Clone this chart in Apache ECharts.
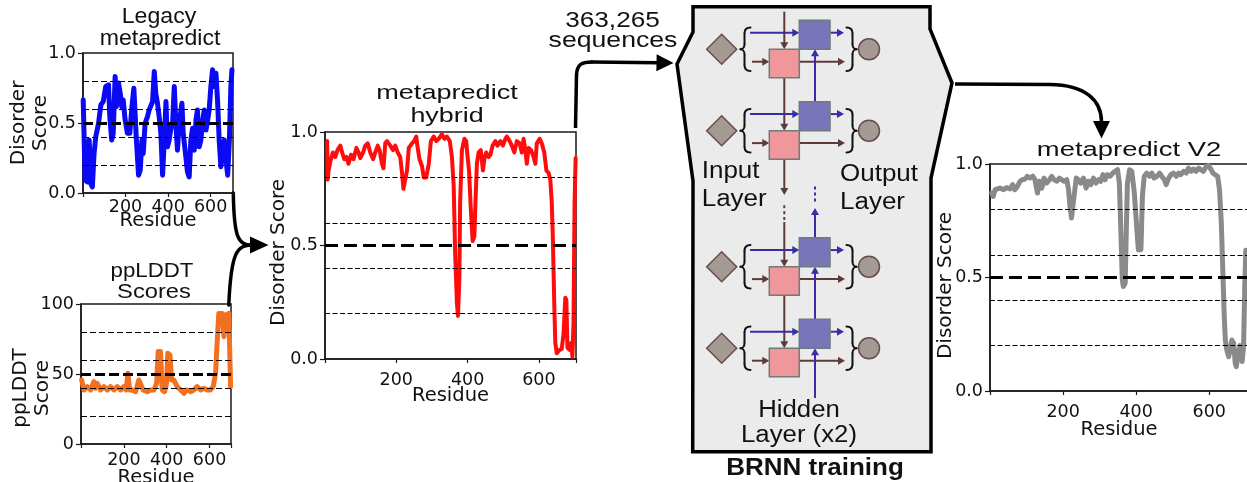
<!DOCTYPE html>
<html><head><meta charset="utf-8">
<script src="https://cdn.jsdelivr.net/npm/echarts@6/dist/echarts.min.js"></script>
<style>html,body{margin:0;padding:0;background:#fff}#c{width:1247px;height:482px}</style>
</head><body><div id="c"></div>
<script>
// ---------------- DATA ----------------
const legacyRes = [1,10,21,29,37,44,52,60,73,84,95,107,120,126,135,142,151,157,167,175,182,189,198,209,220,230,239,245,251,261,269,277,283,292,303,311,319,327,335,342,350,358,366,374,382,390,397,405,413,421,429,437,444,452,465,471,480,491,499,507,515,523,531,538,546,554,562,570,578,586,593,601,609,617,625,633,640,648,656,664,672,680,688,695,700];
const legacyVal = [0.665,0.091,0.079,0.378,0.067,0.043,0.282,0.402,0.498,0.629,0.653,0.761,0.773,0.545,0.378,0.426,0.833,0.617,0.785,0.713,0.617,0.665,0.522,0.426,0.426,0.617,0.749,0.737,0.378,0.127,0.163,0.378,0.282,0.498,0.545,0.593,0.581,0.653,0.868,0.713,0.641,0.545,0.426,0.127,0.378,0.653,0.330,0.378,0.462,0.498,0.761,0.474,0.306,0.498,0.641,0.426,0.306,0.151,0.115,0.378,0.462,0.306,0.522,0.593,0.330,0.378,0.510,0.593,0.450,0.522,0.593,0.761,0.880,0.761,0.856,0.641,0.378,0.187,0.306,0.378,0.234,0.127,0.378,0.761,0.880];

const plddtRes = [3,14,29,45,60,68,76,91,107,123,138,154,169,185,200,211,219,227,239,255,270,278,290,309,325,340,353,360,371,379,390,399,405,415,423,433,449,465,480,496,511,527,542,558,573,589,604,617,628,636,643,659,667,674,690,698];
const plddtVal = [45.7,38.6,41.0,38.6,44.5,39.8,43.3,38.6,41.0,38.6,41.0,38.6,41.0,38.6,41.0,38.6,50.5,38.6,38.6,37.4,45.7,46.9,38.6,37.4,38.6,38.6,43.3,66.0,66.0,38.6,37.4,43.3,64.8,63.6,45.7,45.7,41.0,38.6,36.2,38.6,37.4,38.6,41.0,38.6,39.8,38.6,38.6,41.0,50.5,74.3,93.3,93.3,76.7,92.1,93.3,41.0];

const hybridRes = [6,7.5,10,15,22,29,35,43,48,54,60,66,73,80,88,94,99,107,113,120,127,135,141,148,153,160,164,169,174,183,191,197,204,211,216,220,225,230,235,244,250,256,259,265,272,277,284,291,297,305,312,319,328,335,342,350,356,361,365,370,373,377,379,384,391,396,400,404,409,414,419,422,426,431,437,443,447,452,459,464,470,478,484,492,499,506,510,518,524,531,538,546,552,557,562,566,571,578,585,590,594,602,608,615,621,627,632,636,639,643,646,650,658,664,669,674,677,680,686,690,694,697,700,703];
const hybridVal = [0.96,0.79,0.83,0.87,0.91,0.89,0.92,0.94,0.91,0.88,0.89,0.86,0.90,0.88,0.93,0.91,0.885,0.91,0.94,0.95,0.91,0.88,0.91,0.94,0.92,0.86,0.84,0.95,0.96,0.94,0.92,0.94,0.91,0.89,0.82,0.75,0.745,0.83,0.93,0.95,0.96,0.98,0.94,0.88,0.85,0.80,0.80,0.86,0.96,0.98,0.96,0.97,0.99,0.97,0.98,0.96,0.89,0.76,0.47,0.245,0.19,0.36,0.69,0.92,0.97,0.96,0.89,0.83,0.66,0.52,0.54,0.69,0.86,0.91,0.92,0.83,0.88,0.91,0.89,0.90,0.94,0.96,0.94,0.96,0.94,0.97,0.98,0.96,0.94,0.91,0.96,0.95,0.91,0.97,0.92,0.86,0.93,0.92,0.89,0.86,0.95,0.97,0.95,0.91,0.83,0.82,0.79,0.69,0.54,0.245,0.07,0.025,0.04,0.045,0.11,0.27,0.26,0.05,0.04,0.07,0.01,0.16,0.69,0.885];

const v2Res = [5,9,14,18,27,37,46,55,62,68,75,82,89,96,102,110,117,123,130,135,142,148,155,163,169,175,183,190,196,203,210,215,219,223,226,230,236,242,248,256,263,269,276,283,290,297,303,309,315,321,329,336,342,349,354,358,362,365,370,373,376,382,388,395,402,406,413,417,422,429,437,443,449,457,464,470,477,482,489,495,502,510,516,522,530,537,543,550,557,564,571,577,584,592,598,605,610,616,623,628,633,637,641,644,648,653,657,662,667,671,674,678,684,690,694,697,700];
const v2Val = [0.872,0.857,0.887,0.879,0.894,0.887,0.896,0.890,0.909,0.887,0.901,0.924,0.931,0.934,0.946,0.938,0.946,0.931,0.872,0.924,0.894,0.938,0.916,0.931,0.946,0.931,0.924,0.938,0.931,0.924,0.931,0.887,0.813,0.762,0.762,0.857,0.938,0.931,0.916,0.938,0.894,0.924,0.909,0.938,0.916,0.931,0.924,0.953,0.931,0.953,0.946,0.960,0.968,0.975,0.916,0.710,0.490,0.460,0.475,0.710,0.916,0.975,0.968,0.872,0.710,0.622,0.622,0.857,0.946,0.960,0.946,0.960,0.938,0.946,0.960,0.946,0.931,0.909,0.938,0.953,0.960,0.946,0.960,0.953,0.968,0.960,0.982,0.968,0.978,0.968,0.982,0.975,0.968,0.990,0.993,0.975,0.960,0.953,0.946,0.887,0.740,0.534,0.328,0.225,0.181,0.151,0.181,0.225,0.210,0.122,0.107,0.150,0.200,0.130,0.200,0.450,0.620];

const scoreGuides = [0.2, 0.4, 0.6, 0.8];
const scoreCutoff = 0.5;
const plddtGuides = [20, 40, 60, 80];
const plddtCutoff = 50;
const residueTicks = [200, 400, 600];

const chartTitles = [['Legacy', 'metapredict'], ['ppLDDT', 'Scores'], ['metapredict', 'hybrid'], ['metapredict V2']];
const yNames = ['Disorder\nScore', 'ppLDDT\nScore', 'Disorder Score', 'Disorder Score'];
const xName = 'Residue';
const seqLabel = ['363,265', 'sequences'];
const brnnLabels = {input: ['Input', 'Layer'], output: ['Output', 'Layer'], hidden: ['Hidden', 'Layer (x2)'], title: 'BRNN training'};

// ---------------- LAYOUT ----------------
const AX = '#1a1a1a';
const TXT = '#111';
const NUMFONT = 'DejaVu Sans';
const zip = (a, b) => a.map((v, i) => [v, b[i]]);

const panels = [
  {grid: {left: 83, top: 53, width: 150, height: 140}, xmax: 705, ymax: 1, yint: 0.5, fmt: v => v.toFixed(1),
   res: legacyRes, val: legacyVal, color: '#0a0af5', lw: 5, guides: scoreGuides, cut: scoreCutoff,
   lblMargin: 5, nameGap: 18, yNameGap: 31, yPad: [0, 0, 0, 0], thin: [6, 3], thick: [10, 4], lh: 22},
  {grid: {left: 81, top: 304, width: 150, height: 140}, xmax: 700, ymax: 100, yint: 50, fmt: v => String(v),
   res: plddtRes, val: plddtVal, color: '#f5701e', lw: 5, guides: plddtGuides, cut: plddtCutoff,
   lblMargin: 7, nameGap: 24, yNameGap: 27, yPad: [0, 28, 0, 0], thin: [6, 3], thick: [10, 4], lh: 22},
  {grid: {left: 325, top: 132, width: 251, height: 227}, xmax: 704, ymax: 1, yint: 0.5, fmt: v => v.toFixed(1),
   res: hybridRes, val: hybridVal, color: '#ff0d0d', lw: 4, guides: scoreGuides, cut: scoreCutoff,
   lblMargin: 12, nameGap: 27, yNameGap: 35, yPad: [0, 14, 0, 0], thin: [5, 2.5], thick: [13, 6], lh: 22},
  {grid: {left: 990, top: 164, width: 258, height: 227}, xmax: 706, ymax: 1, yint: 0.5, fmt: v => v.toFixed(1),
   res: v2Res, val: v2Val, color: '#8a8a8a', lw: 5, guides: scoreGuides, cut: scoreCutoff,
   lblMargin: 12, nameGap: 29, yNameGap: 33, yPad: [0, 16, 0, 0], thin: [5, 2.5], thick: [13, 6], lh: 22}
];

const grid = [], xAxis = [], yAxis = [], series = [];
panels.forEach((p, i) => {
  grid.push(Object.assign({show: true, borderColor: AX, borderWidth: 1.5, backgroundColor: 'transparent',
    containLabel: false, outerBoundsMode: 'none'}, p.grid));
  xAxis.push({
    type: 'value', gridIndex: i, min: 0, max: p.xmax, interval: 200,
    axisLine: {show: true, lineStyle: {color: AX, width: 1.5}},
    axisTick: {show: true, length: 4, lineStyle: {color: AX, width: 1.2}},
    axisLabel: {margin: p.lblMargin, color: TXT, fontFamily: NUMFONT, fontSize: 17.5,
      formatter: v => residueTicks.includes(v) ? String(v) : ''},
    splitLine: {show: false},
    name: xName, nameLocation: 'middle', nameGap: p.nameGap, nameMoveOverlap: false,
    nameTextStyle: {color: TXT, fontFamily: NUMFONT, fontSize: 19.5}
  });
  yAxis.push({
    type: 'value', gridIndex: i, min: 0, max: p.ymax, interval: p.yint,
    axisLine: {show: true, lineStyle: {color: AX, width: 1.5}},
    axisTick: {show: true, length: 5, lineStyle: {color: AX, width: 1.2}},
    axisLabel: {margin: 7, color: TXT, fontFamily: NUMFONT, fontSize: 17.5, formatter: p.fmt},
    splitLine: {show: false},
    name: yNames[i], nameLocation: 'middle', nameRotate: 90, nameGap: p.yNameGap, nameMoveOverlap: false,
    nameTextStyle: {color: TXT, fontFamily: NUMFONT, fontSize: 20, lineHeight: p.lh, padding: p.yPad}
  });
  const ml = p.guides.map(g => ({yAxis: g, lineStyle: {color: '#000', width: 1, type: p.thin}}));
  ml.push({yAxis: p.cut, lineStyle: {color: '#000', width: 3, type: p.thick}});
  series.push({
    type: 'line', xAxisIndex: i, yAxisIndex: i, data: zip(p.res, p.val),
    symbol: 'none', showSymbol: false, animation: false, silent: true,
    lineStyle: {color: p.color, width: p.lw, join: 'round', cap: 'round'},
    markLine: {silent: true, symbol: ['none', 'none'], label: {show: false}, animation: false,
      emphasis: {disabled: true}, data: ml}
  });
});

// ---------------- GRAPHICS (diagram, arrows, text) ----------------
const G = [];
const BLUE = '#3a2ca6', BROWN = '#5e3b3b';
function ln(x1, y1, x2, y2, color, w) {
  G.push({type: 'line', silent: true, shape: {x1, y1, x2, y2}, style: {stroke: color, lineWidth: w, lineCap: 'butt'}});
}
function bz(x1, y1, cpx1, cpy1, cpx2, cpy2, x2, y2, color, w) {
  G.push({type: 'bezierCurve', silent: true, shape: {x1, y1, x2, y2, cpx1, cpy1, cpx2, cpy2},
    style: {stroke: color, lineWidth: w, fill: null, lineCap: 'round'}});
}
function poly(points, fill, stroke, w) {
  G.push({type: 'polygon', silent: true, shape: {points}, style: {fill, stroke: stroke || null, lineWidth: w || 0}});
}
function head(tx, ty, ux, uy, hl, hw, color) {
  const bx = tx - ux * hl, by = ty - uy * hl;
  poly([[tx, ty], [bx - uy * hw, by + ux * hw], [bx + uy * hw, by - ux * hw]], color);
}
function arrow(x1, y1, x2, y2, color, w, hl, hw) {
  const dx = x2 - x1, dy = y2 - y1, L = Math.hypot(dx, dy), ux = dx / L, uy = dy / L;
  ln(x1, y1, x2 - ux * (hl - 1), y2 - uy * (hl - 1), color, w);
  head(x2, y2, ux, uy, hl, hw, color);
}
function txt(s, x, y, size, sx, align, bold) {
  G.push({type: 'text', silent: true, x, y, scaleX: sx, scaleY: 1,
    style: {text: s, fill: TXT, fontSize: size, fontFamily: 'Liberation Sans', fontWeight: bold ? 'bold' : 'normal',
      align: align || 'center', verticalAlign: 'middle', textAlign: align || 'center', textVerticalAlign: 'middle'}});
}

// BRNN box
poly([[693, 6.7], [930, 6.7], [930, 29], [952, 83], [931, 178], [931, 451.7], [692.7, 451.7], [693, 181], [677, 64], [693, 32]],
  '#ebebeb', '#000', 3.5);

const rows = [49.3, 130.7, 266.7, 348.3];
const bx = 784.3;
arrow(bx, 11.7, bx, 49.3, BROWN, 2, 7, 4);
arrow(bx, 77.8, bx, 130.7, BROWN, 2, 7, 4);
arrow(bx, 159.2, bx, 195, BROWN, 2, 7, 4);
[206.7, 212.7, 218.5].forEach(y => G.push({type: 'rect', silent: true, shape: {x: bx - 1, y: y - 1.5, width: 2, height: 3}, style: {fill: BROWN}}));
arrow(bx, 222, bx, 266.7, BROWN, 2, 7, 4);
arrow(bx, 295.2, bx, 348.3, BROWN, 2, 7, 4);

rows.forEach(cy => {
  arrow(752, cy + 12.4, 769.3, cy + 12.4, BROWN, 2, 7, 4);
  arrow(800, cy + 12.4, 845, cy + 12.4, BROWN, 2, 7, 4);
  arrow(750, cy - 16.6, 799.3, cy - 16.6, BLUE, 2, 7, 4);
  arrow(830.5, cy - 16.6, 844, cy - 16.6, BLUE, 2, 7, 4);
});
const ux = 815;
arrow(ux, 101.7, ux, 49.3, BLUE, 2, 7, 4);
[188, 194, 200].forEach(y => G.push({type: 'rect', silent: true, shape: {x: ux - 1, y: y - 1.5, width: 2, height: 3}, style: {fill: BLUE}}));
arrow(ux, 238.3, ux, 208, BLUE, 2, 7, 4);
arrow(ux, 319.3, ux, 266.7, BLUE, 2, 7, 4);
arrow(ux, 398, ux, 348.3, BLUE, 2, 7, 4);

rows.forEach(cy => {
  poly([[706.7, cy], [721.7, cy - 15], [736.7, cy], [721.7, cy + 15]], '#a39a93', '#6b4b4b', 1.5);
  G.push({type: 'rect', silent: true, shape: {x: 799.3, y: cy - 29, width: 30.7, height: 29}, style: {fill: '#7a74b9', stroke: '#6c7c7c', lineWidth: 1.5}});
  G.push({type: 'rect', silent: true, shape: {x: 769.3, y: cy, width: 30, height: 28.5}, style: {fill: '#f0979b', stroke: '#6c7c7c', lineWidth: 1.5}});
  G.push({type: 'circle', silent: true, shape: {cx: 869, cy, r: 10.5}, style: {fill: '#a39a93', stroke: '#6b4b4b', lineWidth: 1.5}});
  const K = '#111';
  bz(750.5, cy - 21.7, 746.5, cy - 21.7, 744.5, cy - 20, 744.5, cy - 16, K, 2);
  ln(744.5, cy - 16, 744.5, cy - 5, K, 2);
  bz(744.5, cy - 5, 744.5, cy - 2, 742.5, cy, 740.5, cy, K, 2);
  bz(740.5, cy, 742.5, cy, 744.5, cy + 2, 744.5, cy + 5, K, 2);
  ln(744.5, cy + 5, 744.5, cy + 16, K, 2);
  bz(744.5, cy + 16, 744.5, cy + 20, 746.5, cy + 21.7, 750.5, cy + 21.7, K, 2);
  bz(846.5, cy - 21.7, 850.5, cy - 21.7, 852.5, cy - 20, 852.5, cy - 16, K, 2);
  ln(852.5, cy - 16, 852.5, cy - 5, K, 2);
  bz(852.5, cy - 5, 852.5, cy - 2, 854.5, cy, 856.5, cy, K, 2);
  bz(856.5, cy, 854.5, cy, 852.5, cy + 2, 852.5, cy + 5, K, 2);
  ln(852.5, cy + 5, 852.5, cy + 16, K, 2);
  bz(852.5, cy + 16, 852.5, cy + 20, 850.5, cy + 21.7, 846.5, cy + 21.7, K, 2);
});

// big black arrows
bz(233.3, 193, 234, 238, 238, 245, 252, 245, '#000', 3.5);
bz(228.8, 305, 231, 252, 237, 245, 252, 245, '#000', 3.5);
head(268.5, 245, 1, 0, 18.5, 8.5, '#000');

ln(575.5, 128, 576.5, 75, '#000', 3.5);
bz(576.5, 75, 577, 64, 582, 62, 592, 62, '#000', 3.5);
ln(591, 62, 658, 62.7, '#000', 3.5);
head(673.5, 63, 1, 0.02, 17, 8.5, '#000');

ln(955, 84, 1050, 84.5, '#000', 3.5);
bz(1050, 84.5, 1085, 85, 1101.5, 100, 1101.5, 122, '#000', 3.5);
head(1101.5, 138.5, 0, 1, 17.5, 8.5, '#000');

// texts
txt(chartTitles[0][0], 159, 16.5, 22, 1.05);
txt(chartTitles[0][1], 160, 39, 22, 1.05);
txt(chartTitles[1][0], 152, 271, 21, 1.06);
txt(chartTitles[1][1], 154, 292, 21, 1.13);
txt(chartTitles[2][0], 447, 93, 21, 1.29);
txt(chartTitles[2][1], 447, 116, 21, 1.28);
txt(chartTitles[3][0], 1129, 150, 20, 1.37);
txt(seqLabel[0], 612.5, 21.3, 22, 1.19);
txt(seqLabel[1], 613, 41, 22, 1.21);
txt(brnnLabels.input[0], 701.7, 171.7, 23, 1.13, 'left');
txt(brnnLabels.input[1], 701.7, 199.7, 23, 1.13, 'left');
txt(brnnLabels.output[0], 840, 174.7, 23, 1.13, 'left');
txt(brnnLabels.output[1], 840, 202.7, 23, 1.13, 'left');
txt(brnnLabels.hidden[0], 799, 410.5, 23, 1.12);
txt(brnnLabels.hidden[1], 799, 435.8, 23, 1.12);
txt(brnnLabels.title, 815, 468.3, 23, 1.13, 'center', true);

const chart = echarts.init(document.getElementById('c'), null, {renderer: 'canvas'});
chart.setOption({
  animation: false,
  backgroundColor: '#fff',
  grid, xAxis, yAxis, series,
  graphic: {elements: G}
});
</script></body></html>
